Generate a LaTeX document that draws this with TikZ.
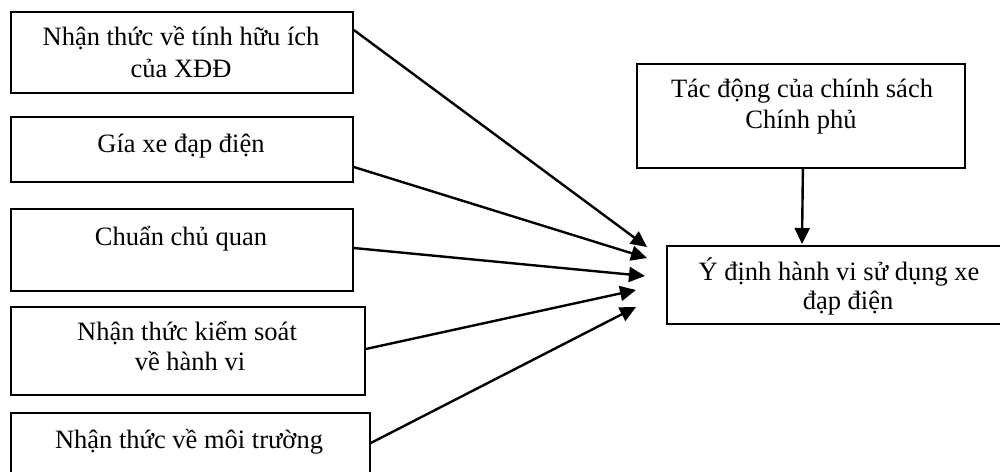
\documentclass[tikz,border=0pt]{standalone}
\usepackage{fontspec}
\setmainfont{Liberation Serif}
\usetikzlibrary{arrows.meta}
\tikzset{
  box/.style={draw, line width=1.8pt, inner sep=0pt, anchor=north west},
  txt/.style={inner sep=0pt, anchor=base, font=\fontsize{26.5}{30}\selectfont},
  conn/.style={line width=2.4pt, -{Triangle[length=16pt,width=15pt]}},
}
\begin{document}
\begin{tikzpicture}[x=1pt,y=-1pt]
\useasboundingbox (0,0) rectangle (1000,471);
\clip (0,0) rectangle (1000,471);
% boxes
\node[box, minimum width=342pt, minimum height=81pt] (b1) at (10,11) {};
\node[box, minimum width=342pt, minimum height=65pt] (b2) at (10,116) {};
\node[box, minimum width=342pt, minimum height=82pt] (b3) at (10,208) {};
\node[box, minimum width=354pt, minimum height=88pt] (b4) at (10,306) {};
\node[box, minimum width=359pt, minimum height=80pt] (b5) at (10,412) {};
\node[box, minimum width=328pt, minimum height=104pt] (b6) at (636,63) {};
\node[box, minimum width=344pt, minimum height=78pt] (b7) at (666,245) {};
% texts
\node[txt] (b1t1) at (181,45) {Nhận thức về tính hữu ích};
\node[txt] (b1t2) at (181,77) {của XĐĐ};
\node[txt] (b2t1) at (181,152) {Gía xe đạp điện};
\node[txt] (b3t1) at (181,245) {Chuẩn chủ quan};
\node[txt] (b4t1) at (187,340) {Nhận thức kiểm soát};
\node[txt] (b4t2) at (190,370) {về hành vi};
\node[txt] (b5t1) at (189,448) {Nhận thức về môi trường};
\node[txt] (b6t1) at (802,97) {Tác động của chính sách};
\node[txt] (b6t2) at (801,128) {Chính phủ};
\node[txt] (b7t1) at (839,280) {Ý định hành vi sử dụng xe};
\node[txt] (b7t2) at (848,309) {đạp điện};
% arrow tips
\coordinate (t1) at (647,247);
\coordinate (t2) at (647,258);
\coordinate (t3) at (645,276);
\coordinate (t4) at (636,290);
\coordinate (t5) at (636,307);
\coordinate (t6) at (802,244);
% connectors
\draw[conn] ([yshift=-19pt]b1.north east) -- (t1);
\draw[conn] ([yshift=-51pt]b2.north east) -- (t2);
\draw[conn] ([yshift=-40pt]b3.north east) -- (t3);
\draw[conn] ([yshift=-43pt]b4.north east) -- (t4);
\draw[conn] ([yshift=-31pt]b5.north east) -- (t5);
\draw[conn] ([xshift=2pt]b6.south) -- (t6);
\end{tikzpicture}
\end{document}
